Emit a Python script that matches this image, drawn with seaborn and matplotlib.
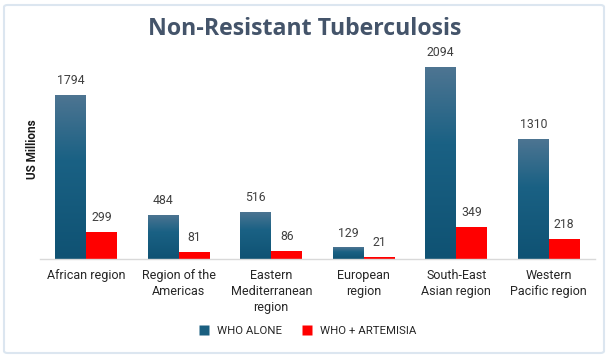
import numpy as np
import pandas as pd
import matplotlib
matplotlib.use("Agg")
import matplotlib.pyplot as plt
import seaborn as sns
from matplotlib.patches import FancyBboxPatch
from matplotlib.lines import Line2D
from matplotlib.colors import LinearSegmentedColormap

regions = ["African region", "Region of the\nAmericas", "Eastern\nMediterranean\nregion",
           "European\nregion", "South-East\nAsian region", "Western\nPacific region"]
who_alone = [1794, 484, 516, 129, 2094, 1310]
who_artemisia = [299, 81, 86, 21, 349, 218]
series_names = ["WHO ALONE", "WHO + ARTEMISIA"]

df = pd.DataFrame({
    "region": regions * 2,
    "value": who_alone + who_artemisia,
    "series": [series_names[0]] * len(regions) + [series_names[1]] * len(regions),
})

sns.set_theme(style="white")
plt.rcParams["font.family"] = ["Roboto", "DejaVu Sans"]

fig = plt.figure(figsize=(6.09, 3.57), dpi=100)
W, H = 609, 357
ax = fig.add_axes([40 / W, (H - 259) / H, (595 - 40) / W, (259 - 40) / H])

palette = {series_names[0]: "#1a5f80", series_names[1]: "#ff0000"}
sns.barplot(data=df, x="region", y="value", hue="series", palette=palette,
            width=0.67, gap=0, ax=ax, legend=False, saturation=1)

ax.set_ylim(0, 2390)

# gradient fill on blue bars
cmap = LinearSegmentedColormap.from_list("g", [(0, "#0f5273"), (0.6, "#1a6184"), (1.0, "#4e7592")])
grad = np.linspace(0, 1, 256).reshape(-1, 1)
n = len(regions)
patches = list(ax.patches)
for p in patches[:n]:
    x0, y0 = p.get_x(), p.get_y()
    w, h = p.get_width(), p.get_height()
    im = ax.imshow(grad, cmap=cmap, aspect="auto", origin="lower",
                   extent=[x0, x0 + w, y0, y0 + h], zorder=p.get_zorder() + 0.1)
    im.set_clip_path(p)
for p in patches:
    p.set_edgecolor("none")

# value labels
for p in patches:
    val = p.get_height()
    ax.annotate(f"{int(round(val))}", (p.get_x() + p.get_width() / 2, val),
                xytext=(0, 5.5), textcoords="offset points", ha="center", va="bottom",
                fontsize=8.8, color="#404040")

ax.set_xlabel("")
ax.set_ylabel("US Millions", fontsize=8.5, fontweight="bold", color="#1a1a1a", labelpad=1)
ax.set_yticks([])
for s in ["top", "right", "left"]:
    ax.spines[s].set_visible(False)
ax.spines["bottom"].set_color("#d9d9d9")
ax.spines["bottom"].set_linewidth(1.0)
ax.tick_params(axis="x", length=0, pad=7, labelsize=9, labelcolor="#262626")
for t in ax.get_xticklabels():
    t.set_linespacing(1.3)
ax.set_xlim(-0.5, len(regions) - 0.5)

fig.text(0.5, (H - 29) / H, "Non-Resistant Tuberculosis", ha="center", va="center",
         fontsize=16.7, fontweight="bold", color="#44546a", family=["Open Sans", "DejaVu Sans"])

handles = [Line2D([0], [0], marker="s", linestyle="none", markersize=6.5,
                  markerfacecolor=palette[s], markeredgecolor="none") for s in series_names]
fig.legend(handles, series_names, loc="center", bbox_to_anchor=(0.5, (H - 331) / H),
           ncol=2, frameon=False, fontsize=8.2, handletextpad=0.1, columnspacing=1.2,
           labelcolor="#262626")

border = FancyBboxPatch((4 / W, 4 / H), (W - 9) / W, (H - 9) / H,
                        boxstyle="round,pad=0,rounding_size=0.006", transform=fig.transFigure,
                        facecolor="none", edgecolor="#dce6f0", linewidth=1.5)
fig.patches.append(border)

fig.savefig("out.png", dpi=100)
